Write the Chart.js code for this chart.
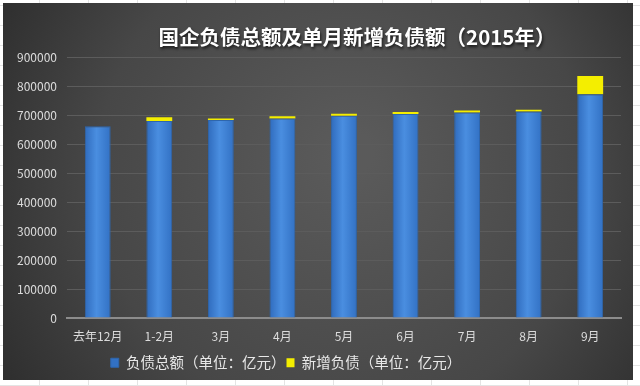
<!DOCTYPE html>
<html lang="zh-CN">
  <head>
    <meta charset="UTF-8" />
    <title>国企负债总额及单月新增负债额（2015年）</title>
    <script src="https://cdn.jsdelivr.net/npm/chart.js@4.4.0/dist/chart.umd.min.js"></script>
    <style>
      * {
        margin: 0;
        padding: 0;
        box-sizing: border-box;
      }

      body {
        width: 640px;
        height: 386px;
        overflow: hidden;
        background-color: #fff;
        background-image: linear-gradient(90deg, #e4e4e4 1px, transparent 1px),
          linear-gradient(0deg, #e4e4e4 1px, transparent 1px);
        background-size: 49px 100%, 100% 20px;
        background-position: 39px 0, 0 6px;
      }

      .panel {
        position: absolute;
        left: 3px;
        top: 3px;
        width: 630px;
        height: 377px;
      }
    </style>
  </head>

  <body>
    <div class="panel">
      <canvas id="chart"></canvas>
    </div>

    <script>
      const months = ["去年12月", "1-2月", "3月", "4月", "5月", "6月", "7月", "8月", "9月"];

      // 负债总额（亿元）
      const totalDebt = [663000, 681000, 684000, 690000, 699000, 705000, 710000, 714000, 773000];

      // 新增负债（亿元）
      const newDebt = [0, 13000, 6000, 7000, 7000, 7000, 7000, 6000, 63000];

      const yTicks = [0, 100000, 200000, 300000, 400000, 500000, 600000, 700000, 800000, 900000];

      const fontFamily = '"Noto Sans CJK SC", "Noto Sans", sans-serif';

      // dark panel background
      const panelBg = {
        id: "panelBg",
        beforeDraw(chart) {
          const { ctx, width, height } = chart;
          ctx.save();
          const g = ctx.createRadialGradient(350, 150, 20, 330, 190, 430);
          g.addColorStop(0, "#5a5a5a");
          g.addColorStop(0.55, "#474747");
          g.addColorStop(1, "#262626");
          ctx.fillStyle = g;
          ctx.fillRect(0, 0, width, height);
          ctx.restore();
        },
      };

      // tighten the legend and nudge title/legend to where the original put them
      const nudgeBoxes = {
        id: "nudgeBoxes",
        afterInit(chart) {
          const legend = chart.legend;
          const fitLegend = legend.fit.bind(legend);
          const drawLegend = legend.draw.bind(legend);
          legend.fit = function () {
            fitLegend();
            this.height -= 10;
          };
          legend.draw = function (area) {
            const ctx = chart.ctx;
            ctx.save();
            ctx.translate(-28, 0);
            drawLegend(area);
            ctx.restore();
          };

          const title = chart.titleBlock;
          const drawTitle = title.draw.bind(title);
          title.draw = function (area) {
            const ctx = chart.ctx;
            ctx.save();
            ctx.translate(13, 0);
            ctx.shadowColor = "rgba(0, 0, 0, 0.7)";
            ctx.shadowOffsetX = 1;
            ctx.shadowOffsetY = 2;
            ctx.shadowBlur = 3;
            drawTitle(area);
            ctx.restore();
          };
        },
      };

      // shaded blue, lighter in the middle of each bar
      function blueFill(context) {
        const chart = context.chart;
        if (!chart.chartArea || context.dataIndex === undefined) return "#3d82d6";
        const x = chart.scales.x.getPixelForValue(context.dataIndex);
        const g = chart.ctx.createLinearGradient(x - 13, 0, x + 13, 0);
        g.addColorStop(0, "#2f6bbd");
        g.addColorStop(0.45, "#4a8ee0");
        g.addColorStop(1, "#3271c4");
        return g;
      }

      new Chart(document.getElementById("chart"), {
        type: "bar",
        plugins: [panelBg, nudgeBoxes],
        data: {
          labels: months,
          datasets: [
            {
              label: "负债总额（单位：亿元）",
              data: totalDebt,
              backgroundColor: blueFill,
              borderColor: "#2e66ad",
              borderWidth: 1,
              barPercentage: 0.42,
              categoryPercentage: 1,
            },
            {
              label: "新增负债（单位：亿元）",
              data: newDebt,
              backgroundColor: "#f4ee00",
              borderColor: "#c9c400",
              borderWidth: 0,
              barPercentage: 0.42,
              categoryPercentage: 1,
            },
          ],
        },
        options: {
          responsive: true,
          maintainAspectRatio: false,
          animation: false,
          layout: { padding: { left: 4, right: 12, top: 0, bottom: 10 } },
          plugins: {
            tooltip: { enabled: false },
            title: {
              display: true,
              text: "国企负债总额及单月新增负债额（2015年）",
              color: "#ffffff",
              fullSize: false,
              font: { family: fontFamily, size: 20.5, weight: "bold" },
              padding: { top: 22, bottom: 8 },
            },
            legend: {
              position: "bottom",
              labels: {
                color: "#e8e8e8",
                font: { family: fontFamily, size: 14.5, lineHeight: 1 },
                boxWidth: 8,
                boxHeight: 9,
                padding: 1,
              },
            },
          },
          scales: {
            x: {
              stacked: true,
              grid: { display: false, drawTicks: false },
              border: { color: "#8c8c8c", width: 2 },
              ticks: {
                color: "#dcdcdc",
                font: { family: fontFamily, size: 12 },
                padding: 11,
                maxRotation: 0,
              },
            },
            y: {
              stacked: true,
              min: 0,
              max: 900000,
              afterBuildTicks(axis) {
                axis.ticks = yTicks.map((v) => ({ value: v }));
              },
              grid: { color: "#5c5c5c", lineWidth: 1, drawTicks: false },
              border: { display: false },
              ticks: {
                color: "#dcdcdc",
                font: { family: fontFamily, size: 12 },
                padding: 10,
                callback: (v) => String(v),
              },
            },
          },
        },
      });
    </script>
  </body>
</html>
